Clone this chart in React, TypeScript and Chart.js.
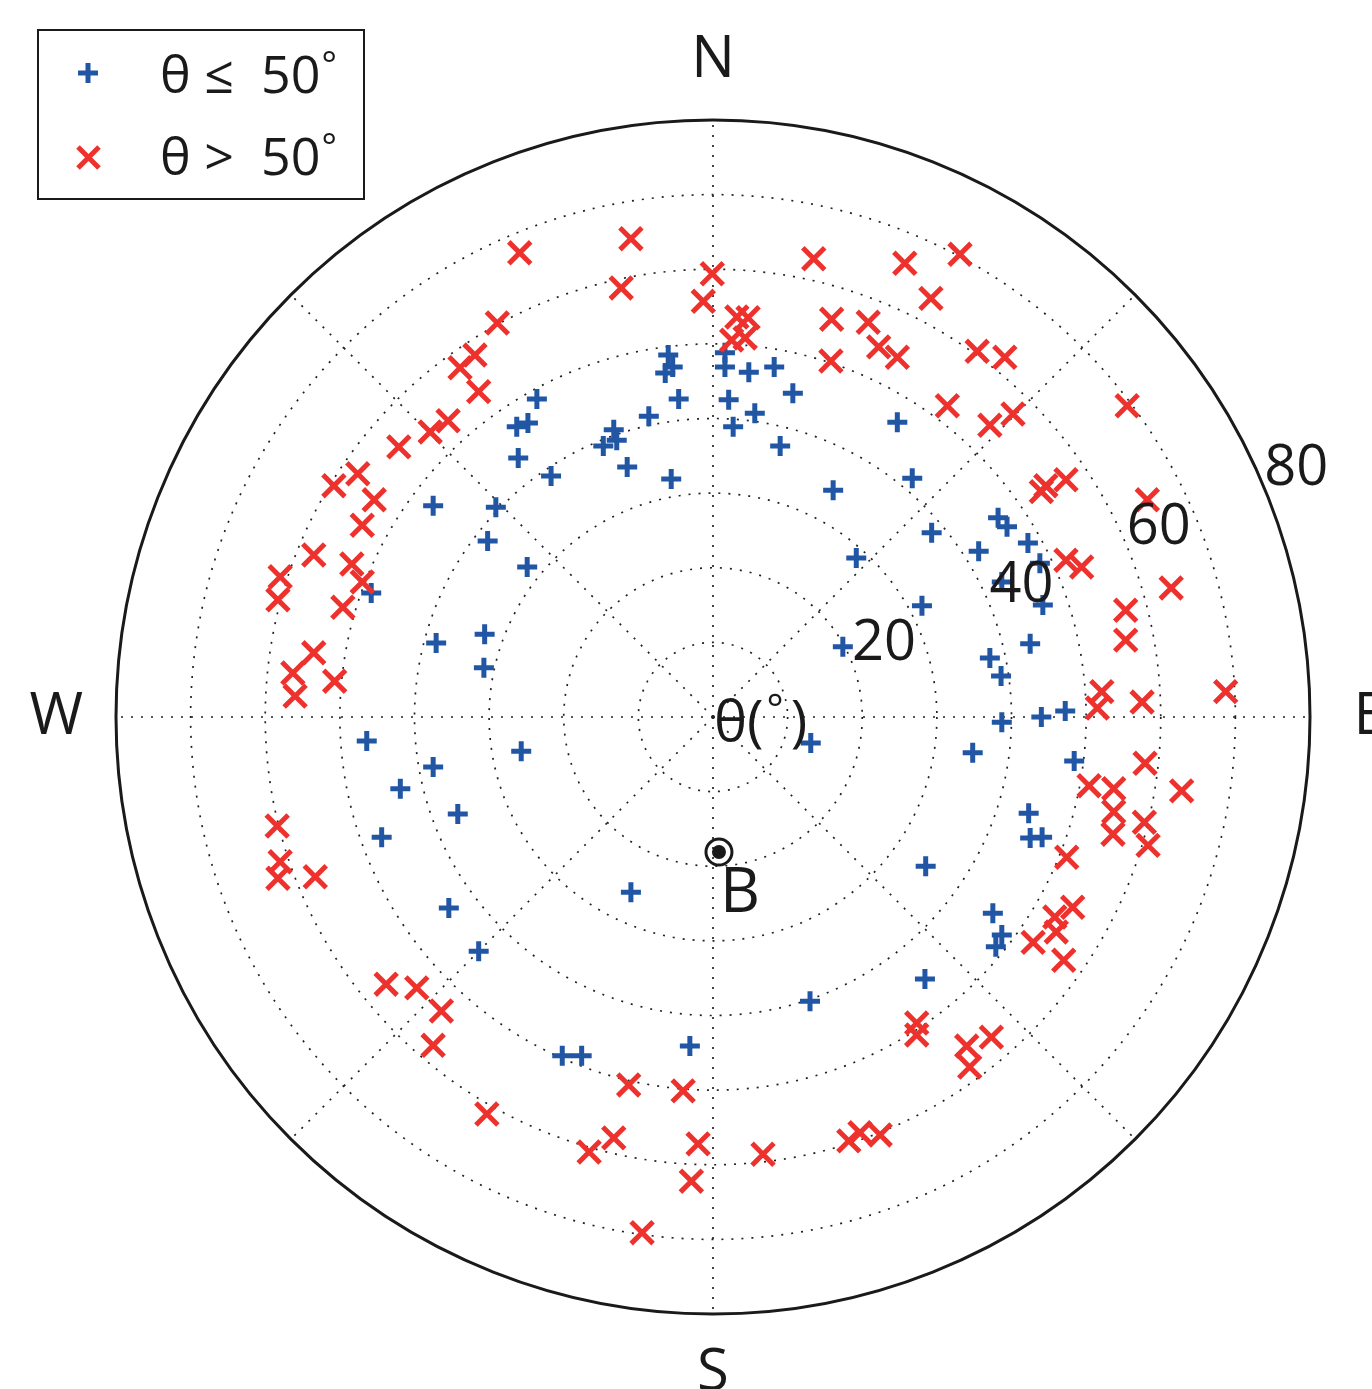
import React, { useEffect, useRef } from "react";
import { Chart, registerables } from "chart.js";

Chart.register(...registerables);

// Sky positions: [east component, north component] of zenith angle θ (degrees)
const lowZenith: [number, number][] = [
  [-6.0, 48.5], [-5.4, 46.9], [-6.4, 46.1], [1.6, 48.8], [1.6, 46.9], [4.8, 46.2], [8.2, 46.9],
  [-4.6, 42.6], [2.1, 42.5], [5.6, 40.7], [10.7, 43.4], [2.7, 38.9], [9.0, 36.3], [24.7, 39.5],
  [16.1, 30.4], [-5.6, 31.9], [-8.6, 40.3], [-13.3, 38.5], [-12.9, 37.1], [-14.7, 36.3],
  [-11.5, 33.5], [-21.7, 32.3], [-23.6, 42.6], [-24.8, 39.4], [-26.3, 38.9], [-26.1, 34.7],
  [26.7, 32.0], [-37.5, 28.3], [-29.1, 28.1], [-30.2, 23.6], [-45.8, 16.6], [-37.1, 9.9],
  [-30.6, 11.1], [-30.7, 6.6], [-46.4, -3.2], [-37.5, -6.7], [-41.9, -9.6], [-34.2, -13.0],
  [-44.4, -16.1], [-35.4, -25.6], [-24.9, 20.1], [-25.7, -4.6], [-31.4, -31.4], [19.2, 21.3],
  [17.4, 9.4], [13.1, -3.5], [-11.0, -23.5], [-20.2, -45.4], [-17.6, -45.4], [-3.1, -44.1],
  [13.0, -38.1], [38.7, -29.2], [37.9, -30.8], [28.4, -35.1], [37.5, -26.3], [29.3, 24.7],
  [39.4, 25.5], [38.2, 26.7], [42.2, 23.3], [35.6, 22.2], [43.8, 20.6], [38.7, 18.1],
  [44.2, 15.0], [28.0, 14.9], [42.5, 9.8], [37.1, 7.9], [38.6, 5.5], [38.7, -0.7], [44.0, 0.0],
  [47.2, 0.8], [34.8, -4.8], [48.4, -5.9], [42.3, -12.9], [42.5, -16.2], [44.1, -16.1], [28.5, -20.0],
];

const highZenith: [number, number][] = [
  [-11.0, 64.1], [-25.9, 62.2], [-0.1, 59.4], [-12.3, 57.5], [-1.3, 55.7], [3.2, 53.6], [4.7, 53.5],
  [4.3, 50.8], [2.5, 50.5], [13.5, 61.4], [25.7, 60.8], [33.1, 62.0], [29.2, 56.1], [15.9, 53.3],
  [20.8, 52.9], [22.2, 49.6], [24.7, 48.2], [15.8, 47.7], [35.4, 49.0], [39.1, 48.2], [31.4, 41.7],
  [37.1, 39.1], [40.2, 40.6], [55.5, 41.7], [44.0, 30.2], [44.6, 31.0], [47.3, 31.8], [58.2, 29.1],
  [-28.9, 52.8], [-31.9, 48.5], [-33.9, 46.8], [-31.4, 43.6], [-35.5, 39.7], [-37.9, 38.2],
  [-42.1, 36.2], [-47.6, 32.6], [-50.8, 31.0], [-45.4, 29.1], [-47.0, 25.7], [-53.5, 21.7],
  [-48.4, 20.5], [-47.0, 18.1], [-58.0, 18.8], [-58.3, 15.7], [-49.6, 14.7], [-53.5, 8.6],
  [-56.3, 5.9], [-56.0, 2.8], [-50.7, 4.8], [-58.4, -14.6], [-58.0, -19.4], [-58.3, -21.6],
  [-53.3, -21.4], [-43.8, -35.8], [-39.7, -36.3], [-36.4, -39.4], [-37.5, -44.0], [-30.3, -53.2],
  [-11.3, -49.3], [-4.0, -50.1], [-13.3, -56.4], [-16.6, -58.3], [-2.0, -57.2], [-2.9, -62.2],
  [-9.5, -69.1], [6.7, -58.6], [18.2, -56.8], [19.7, -55.7], [22.4, -56.0], [27.3, -41.0],
  [27.3, -42.6], [34.0, -44.1], [34.4, -46.9], [37.3, -42.9], [48.2, -25.5], [45.8, -26.8],
  [46.0, -28.8], [42.9, -30.2], [47.0, -32.6], [47.4, -18.8], [47.3, 21.0], [49.4, 20.1],
  [61.4, 17.3], [55.3, 14.3], [55.3, 10.3], [52.1, 3.4], [51.5, 1.2], [57.5, 2.0], [68.7, 3.4],
  [57.9, -6.2], [50.4, -9.2], [53.7, -9.6], [53.7, -12.7], [53.6, -15.7], [62.8, -9.9],
  [57.8, -14.1], [58.3, -17.2],
];

const fieldDirection: [number, number][] = [[0.8, -18.1]];
const fieldLabel = "B";

const ringValues = [10, 20, 30, 40, 50, 60, 70];
const outerValue = 80;
const ringTickLabels = [20, 40, 60, 80];
const spokeAngles = [0, 45, 90, 135, 180, 225, 270, 315];
const compassLabels: [string, number][] = [["N", 0], ["E", 90], ["S", 180], ["W", 270]];
const legendLabels = ["θ ≤  50", "θ >  50"];
const centerLabel = "θ(";

const BLUE = "#2156A5";
const RED = "#ED322D";
const FONT = "'Open Sans', 'Noto Sans', sans-serif";

const toXY = (p: [number, number]) => ({ x: p[0], y: p[1] });

const polarPlugin = {
  id: "polarFrame",
  beforeDatasetsDraw(chart: any) {
    const { ctx, scales } = chart;
    const sx = scales.x, sy = scales.y;
    const cx = sx.getPixelForValue(0), cy = sy.getPixelForValue(0);
    const k = sx.getPixelForValue(1) - cx;
    ctx.save();
    ctx.strokeStyle = "#222";
    ctx.lineWidth = 1.7;
    ctx.setLineDash([2, 8]);
    for (const r of ringValues) {
      ctx.beginPath();
      ctx.arc(cx, cy, r * k, 0, Math.PI * 2);
      ctx.stroke();
    }
    for (const a of spokeAngles) {
      const rad = (a * Math.PI) / 180;
      ctx.beginPath();
      ctx.moveTo(cx, cy);
      ctx.lineTo(sx.getPixelForValue(outerValue * Math.sin(rad)), sy.getPixelForValue(outerValue * Math.cos(rad)));
      ctx.stroke();
    }
    ctx.setLineDash([]);
    ctx.lineWidth = 3;
    ctx.strokeStyle = "#1a1a1a";
    ctx.beginPath();
    ctx.arc(cx, cy, outerValue * k, 0, Math.PI * 2);
    ctx.stroke();
    ctx.restore();
  },
  afterDatasetsDraw(chart: any) {
    const { ctx, scales } = chart;
    const sx = scales.x, sy = scales.y;
    const cx = sx.getPixelForValue(0), cy = sy.getPixelForValue(0);
    ctx.save();
    ctx.fillStyle = "#1a1a1a";
    // ring tick labels
    ctx.font = `56px ${FONT}`;
    ctx.textAlign = "center";
    ctx.textBaseline = "middle";
    const la = (23 * Math.PI) / 180;
    for (const v of ringTickLabels) {
      const r = v + 4.9;
      ctx.fillText(String(v), sx.getPixelForValue(r * Math.cos(la)), sy.getPixelForValue(r * Math.sin(la)));
    }
    // compass labels
    ctx.font = `58px ${FONT}`;
    for (const [t, a] of compassLabels) {
      const rad = (a * Math.PI) / 180;
      const r = 88;
      ctx.fillText(t, sx.getPixelForValue(r * Math.sin(rad)), sy.getPixelForValue(r * Math.cos(rad)));
    }
    // center label θ(°)
    ctx.textAlign = "left";
    ctx.textBaseline = "alphabetic";
    ctx.font = `56px ${FONT}`;
    const x0 = cx + 1;
    const base = cy + 24;
    ctx.fillText(centerLabel, x0, base);
    const w = ctx.measureText(centerLabel).width;
    ctx.font = `40px ${FONT}`;
    ctx.fillText("°", x0 + w + 3, base - 18);
    const dw = ctx.measureText("°").width;
    ctx.font = `56px ${FONT}`;
    ctx.fillText(")", x0 + w + dw + 10, base);
    // field label
    const bx = sx.getPixelForValue(fieldDirection[0][0]);
    const by = sy.getPixelForValue(fieldDirection[0][1]);
    ctx.font = `62px ${FONT}`;
    ctx.textAlign = "center";
    ctx.textBaseline = "middle";
    ctx.fillText(fieldLabel, bx + 21, by + 42);
    // legend
    ctx.lineWidth = 2;
    ctx.strokeStyle = "#1a1a1a";
    ctx.strokeRect(38, 30, 326, 169);
    ctx.lineWidth = 5;
    ctx.strokeStyle = BLUE;
    ctx.beginPath();
    ctx.moveTo(78, 73); ctx.lineTo(98, 73);
    ctx.moveTo(88, 63); ctx.lineTo(88, 83);
    ctx.stroke();
    ctx.strokeStyle = RED;
    ctx.beginPath();
    ctx.moveTo(78, 147); ctx.lineTo(99, 168);
    ctx.moveTo(99, 147); ctx.lineTo(78, 168);
    ctx.stroke();
    ctx.fillStyle = "#1a1a1a";
    ctx.textAlign = "left";
    ctx.textBaseline = "alphabetic";
    const rows = [93, 175];
    legendLabels.forEach((t, i) => {
      ctx.font = `52px ${FONT}`;
      ctx.fillText(t, 160, rows[i]);
      const tw = ctx.measureText(t).width;
      ctx.font = `36px ${FONT}`;
      ctx.fillText("°", 160 + tw + 1, rows[i] - 16);
    });
    ctx.restore();
  },
};

export default function App() {
  const ref = useRef<HTMLCanvasElement | null>(null);
  useEffect(() => {
    if (!ref.current) return;
    const chart = new Chart(ref.current, {
      type: "scatter",
      data: {
        datasets: [
          {
            label: "θ ≤ 50°",
            data: lowZenith.map(toXY),
            pointStyle: "cross",
            pointRadius: 10,
            borderWidth: 5,
            borderColor: BLUE,
            backgroundColor: BLUE,
            order: 2,
          },
          {
            label: "θ > 50°",
            data: highZenith.map(toXY),
            pointStyle: "crossRot",
            pointRadius: 15.5,
            borderWidth: 5,
            borderColor: RED,
            backgroundColor: RED,
            order: 1,
          },
          {
            label: "B ring",
            data: fieldDirection.map(toXY),
            pointStyle: "circle",
            pointRadius: 13,
            borderWidth: 3,
            borderColor: "#1a1a1a",
            backgroundColor: "rgba(255,255,255,0)",
            order: 0,
          },
          {
            label: "B dot",
            data: fieldDirection.map(toXY),
            pointStyle: "circle",
            pointRadius: 7,
            borderWidth: 0,
            borderColor: "#1a1a1a",
            backgroundColor: "#1a1a1a",
            order: 0,
          },
        ],
      },
      options: {
        animation: false,
        responsive: false,
        devicePixelRatio: 1,
        events: [],
        layout: { padding: { left: 116, right: 62, top: 120, bottom: 75 } },
        scales: {
          x: { type: "linear", min: -outerValue, max: outerValue, display: false },
          y: { type: "linear", min: -outerValue, max: outerValue, display: false },
        },
        plugins: { legend: { display: false }, tooltip: { enabled: false } },
      },
      plugins: [polarPlugin],
    });
    return () => chart.destroy();
  }, []);
  return (
    <div style={{ position: "absolute", left: 0, top: 0, width: 1372, height: 1389, background: "#fff" }}>
      <canvas ref={ref} width={1372} height={1389} />
    </div>
  );
}
